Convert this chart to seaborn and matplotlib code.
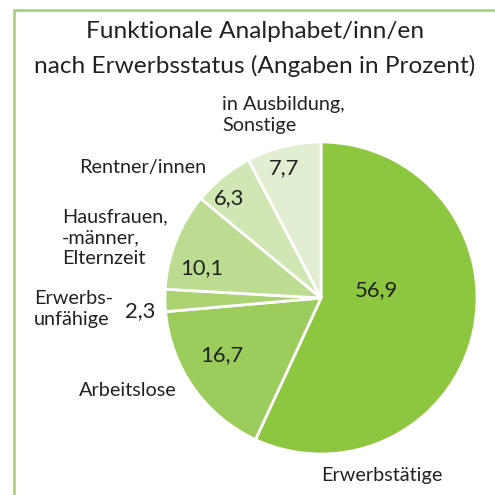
import matplotlib
matplotlib.use("Agg")
import matplotlib.pyplot as plt
import seaborn as sns

# Anteile nach Erwerbsstatus (im Uhrzeigersinn ab 12 Uhr)
categories = ["Erwerbstätige", "Arbeitslose", "Erwerbs-\nunfähige",
              "Hausfrauen,\n-männer,\nElternzeit", "Rentner/innen",
              "in Ausbildung,\nSonstige"]
values = [56.9, 16.7, 2.3, 10.1, 6.3, 7.7]
value_labels = ["56,9", "16,7", "2,3", "10,1", "6,3", "7,7"]
colors = ["#8dc63f", "#9ccc5b", "#abd372", "#bcdc92", "#d0e6b3", "#e2eed2"]

sns.set_theme(style="white")
plt.rcParams["font.family"] = ["Lato", "DejaVu Sans"]

fig = plt.figure(figsize=(4.95, 4.95), dpi=100)
ax = fig.add_axes([0, 0, 1, 1])

# Rahmen oben und links
frame = "#a9d47c"
ax.plot([14, 14], [0, 485], color=frame, lw=2, solid_capstyle="butt")
ax.plot([13, 495], [485, 485], color=frame, lw=2, solid_capstyle="butt")

ax.pie(values, colors=colors, startangle=90, counterclock=False,
       center=(321, 197), radius=156, frame=True,
       wedgeprops=dict(edgecolor="white", linewidth=2))
ax.set_xlim(0, 495)
ax.set_ylim(0, 495)
ax.set_aspect("equal")
ax.axis("off")

ax.text(255, 446, "Funktionale Analphabet/inn/en\nnach Erwerbsstatus (Angaben in Prozent)",
        ha="center", va="center", fontsize=17.6, color="#222222", linespacing=1.72)

txt = "#222222"
# Werte in den Segmenten
val_pos = [(376, 205), (222, 140), (140, 184), (202, 227), (229, 297), (284, 327)]
for (x, y), v in zip(val_pos, value_labels):
    ax.text(x, y, v, ha="center", va="center", fontsize=15.8, color=txt)

# Kategorienamen
cat_pos = [(382, 19, "center"), (128, 105, "center"), (34, 186, "left"),
           (62, 257, "left"), (143, 328, "center"), (222, 380, "left")]
for (x, y, ha), c in zip(cat_pos, categories):
    ax.text(x, y, c, ha=ha, va="center", fontsize=14.3, color=txt, linespacing=1.27)

fig.savefig("out.png", dpi=100, facecolor="white")
